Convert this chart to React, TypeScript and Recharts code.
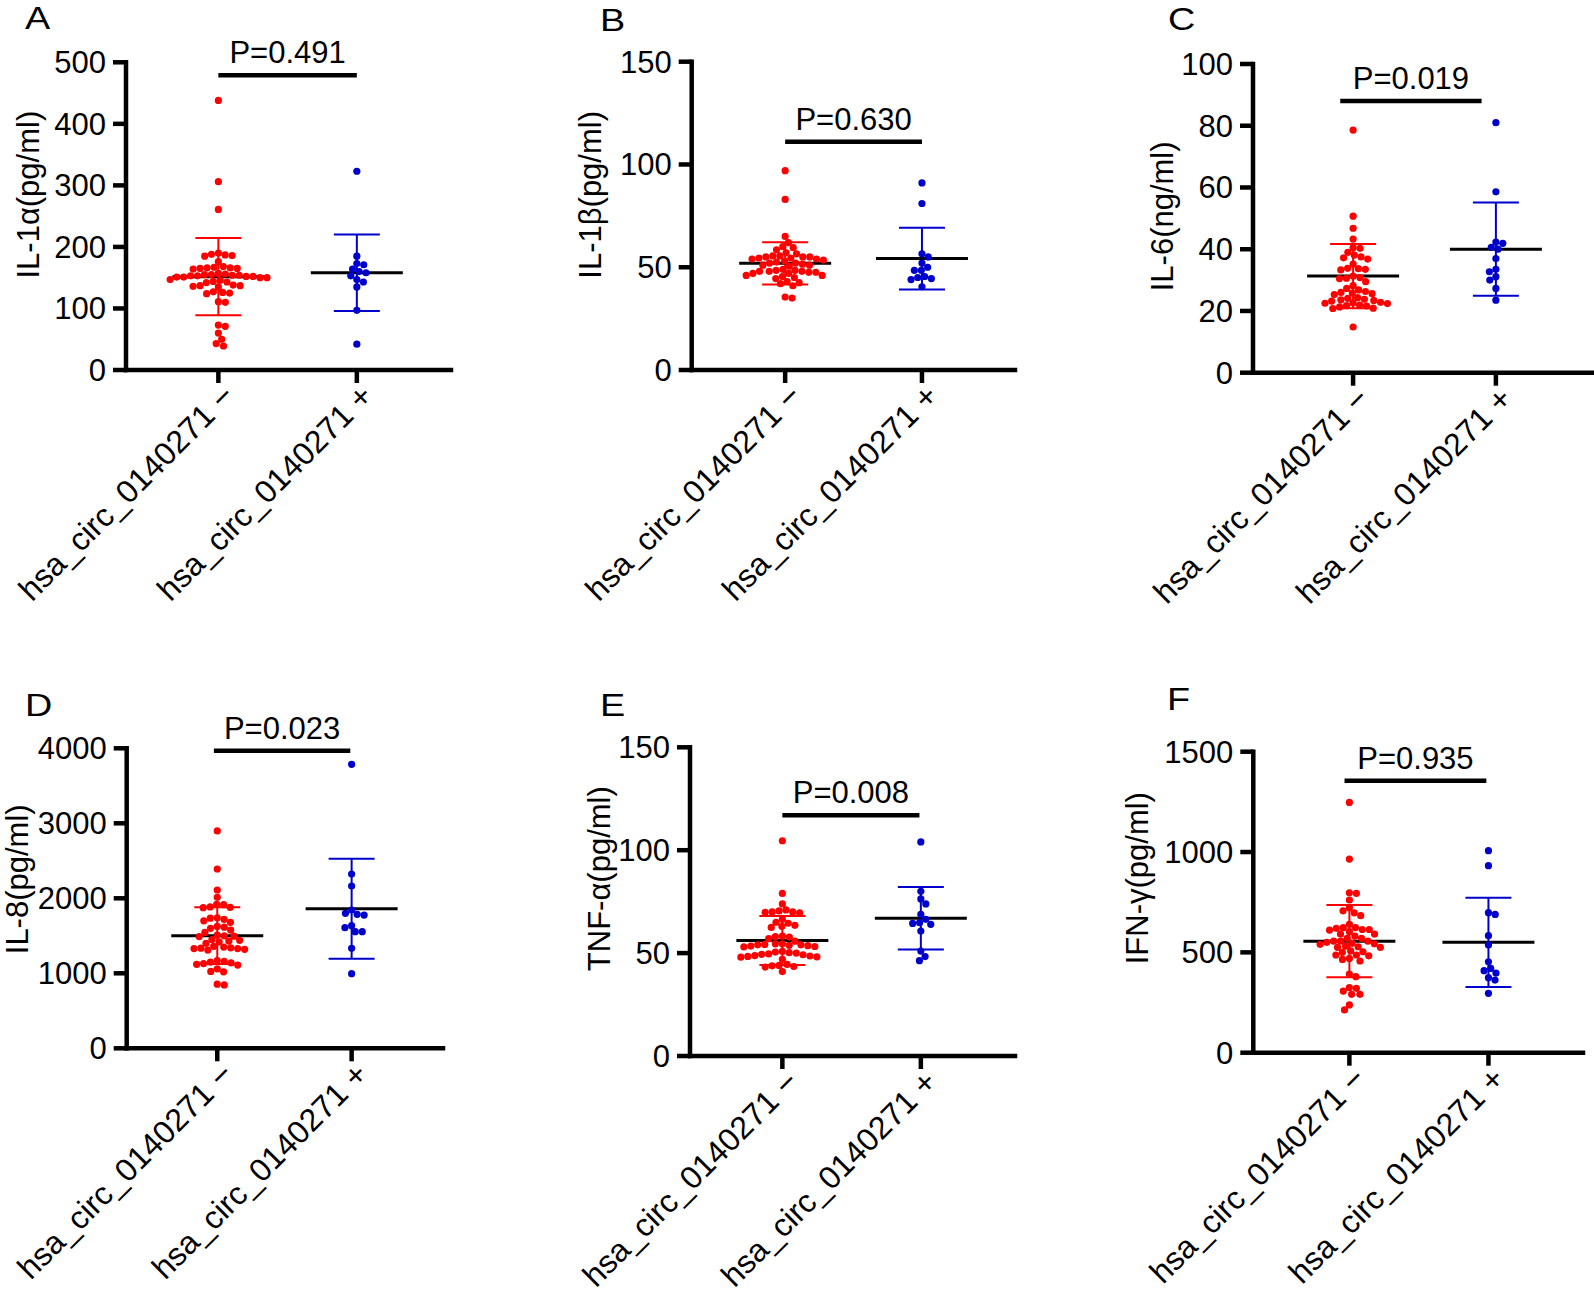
import * as React from "react"
import {
    ScatterChart,
    Scatter,
    XAxis,
    YAxis,
    ErrorBar,
    ReferenceLine,
    Customized
} from "recharts"

const FONT = "'Liberation Sans', Arial, Helvetica, sans-serif"
const RED = "#ff0000"
const BLUE = "#0000cc"
const FS = 31

// ---- data ----
const groupLabels = ["hsa_circ_0140271 \u2212", "hsa_circ_0140271 +"]

const il1aTicks = [0, 100, 200, 300, 400, 500]
const il1aNeg = [438, 306, 261, 190, 188, 187, 186, 185, 176, 168, 167, 166, 166, 165, 165, 164, 157, 156, 155, 155, 154, 154, 153, 153, 152, 152, 151, 151, 150, 150, 147, 146, 144, 143, 142, 138, 137, 137, 136, 135, 127, 126, 125, 124, 111, 110, 73, 71, 60, 50, 43, 39]
const il1aPos = [323, 185, 173, 171, 164, 160, 158, 153, 147, 143, 135, 97, 42]
const il1aMean = [151.6, 158]
const il1aSd = [62.8, 62]

const il1bTicks = [0, 50, 100, 150]
const il1bNeg = [97, 83, 65, 62, 60, 59.5, 58.5, 57, 56.5, 55.5, 55.5, 55, 55, 55, 54.5, 54.5, 54, 54, 53.5, 53, 52.5, 52, 52, 51.5, 51, 51, 50.5, 49, 48.5, 48.5, 48, 48, 48, 47.5, 47.5, 47, 47, 46, 46, 45.5, 45, 44.5, 43, 42.5, 42, 41, 35.5, 35]
const il1bPos = [91, 81, 56.5, 55, 52, 50, 48.5, 48.5, 45.5, 45, 44.5, 44, 40.5]
const il1bMean = [51.9, 54.2]
const il1bSd = [10.3, 15]

const il6Ticks = [0, 20, 40, 60, 80, 100]
const il6Neg = [78.6, 50.7, 46.8, 43.3, 40.5, 40.3, 39, 38.1, 37.5, 37.2, 36.8, 35.2, 33.8, 33.7, 33.5, 33.3, 31.3, 30.8, 30.6, 30.5, 29.5, 28.2, 27.3, 26.8, 26.3, 26, 25.8, 25.6, 25.3, 24.3, 24.1, 23.8, 23.6, 23.4, 23.2, 22.8, 22.6, 22.5, 22.4, 21.9, 21.7, 21.6, 21.3, 20.9, 20.8, 14.8]
const il6Pos = [81, 58.6, 42.3, 41.9, 40.6, 40, 37, 33.5, 32.7, 31.1, 30, 27.3, 23.5]
const il6Mean = [31.3, 40.0]
const il6Sd = [10.4, 15.1]

const il8Ticks = [0, 1000, 2000, 3000, 4000]
const il8Neg = [2898, 2391, 2111, 2013, 1920, 1915, 1885, 1880, 1875, 1740, 1735, 1720, 1700, 1680, 1625, 1615, 1600, 1577, 1545, 1510, 1500, 1495, 1490, 1450, 1440, 1430, 1420, 1400, 1360, 1350, 1340, 1335, 1330, 1330, 1320, 1310, 1170, 1160, 1150, 1140, 1130, 1120, 1110, 1060, 1025, 1020, 855, 845]
const il8Pos = [3787, 2324, 2164, 1844, 1800, 1787, 1777, 1635, 1608, 1555, 1555, 1333, 995]
const il8Mean = [1502, 1862]
const il8Sd = [378, 667]

const tnfTicks = [0, 50, 100, 150]
const tnfNeg = [104.6, 79, 73.9, 71, 70.5, 70, 70, 69.8, 69.5, 66.4, 65, 64.5, 63.5, 63, 62.5, 58.2, 58, 57.8, 57, 55.8, 54.5, 54.5, 54.2, 54, 54, 53.8, 53.6, 53.4, 53.2, 53, 50.8, 50.5, 50.2, 50, 49.6, 49.4, 49.2, 48.8, 48.6, 48.4, 48.2, 48, 47, 44.5, 44, 43.8, 43.5, 43.2, 41]
const tnfPos = [104, 80, 76.3, 73.9, 68.8, 66.4, 64.8, 64.4, 64, 60.7, 51, 48.3, 46.3]
const tnfMean = [56.1, 66.9]
const tnfSd = [11.9, 15.2]

const ifnTicks = [0, 500, 1000, 1500]
const ifnNeg = [1247, 965, 797, 794, 761, 722, 707, 697, 683, 640, 623, 623, 620, 614, 614, 611, 603, 591, 591, 581, 570, 570, 556, 556, 556, 550, 545, 543, 540, 531, 528, 525, 525, 507, 503, 500, 487, 487, 483, 470, 465, 457, 392, 379, 324, 321, 307, 291, 291, 238, 213]
const ifnPos = [1007, 932, 698, 689, 583, 537, 453, 420, 409, 397, 374, 362, 296]
const ifnMean = [556, 550]
const ifnSd = [180, 222]

const pLabels = ["P=0.491", "P=0.630", "P=0.019", "P=0.023", "P=0.008", "P=0.935"]
const pBarLevels = [479, 111, 88, 3968, 117, 1355]

// ---- panel layout ----
const X_MAX = 1.68
const DOT_R = 3.6
const MEAN_HALF_PX = 46
const CAP_HALF_PX = 23

const panels = [
    { letter: "A", title: "IL-1\u03b1(pg/ml)", ticks: il1aTicks, neg: il1aNeg, pos: il1aPos, mean: il1aMean, sd: il1aSd,
      left: 0, top: 0, width: 540, plot: { x: 126, y: 62.3, w: 325, h: 307.7 }, xMin: -0.667, bar: [0, 1],
      titleDx: -87, titleDy: -21.5, letterPos: [25, 29] },
    { letter: "B", title: "IL-1\u03b2(pg/ml)", ticks: il1bTicks, neg: il1bNeg, pos: il1bPos, mean: il1bMean, sd: il1bSd,
      left: 540, top: 0, width: 540, plot: { x: 151.7, y: 61.7, w: 323.3, h: 308.3 }, xMin: -0.683, bar: [0, 1],
      titleDx: -91, titleDy: -21, letterPos: [60, 31] },
    { letter: "C", title: "IL-6(ng/ml)", ticks: il6Ticks, neg: il6Neg, pos: il6Pos, mean: il6Mean, sd: il6Sd,
      left: 1080, top: 0, width: 514, plot: { x: 173, y: 64, w: 340, h: 308.7 }, xMin: -0.701, bar: [-0.09, 0.9],
      titleDx: -80, titleDy: -2, letterPos: [88, 30] },
    { letter: "D", title: "IL-8(pg/ml)", ticks: il8Ticks, neg: il8Neg, pos: il8Pos, mean: il8Mean, sd: il8Sd,
      left: 0, top: 650, width: 540, plot: { x: 126.7, y: 98.3, w: 316.3, h: 300 }, xMin: -0.674, bar: [-0.025, 0.99],
      titleDx: -99, titleDy: -19, letterPos: [25, 66] },
    { letter: "E", title: "TNF-\u03b1(pg/ml)", ticks: tnfTicks, neg: tnfNeg, pos: tnfPos, mean: tnfMean, sd: tnfSd,
      left: 540, top: 650, width: 540, plot: { x: 150, y: 97.3, w: 325, h: 308.7 }, xMin: -0.667, bar: [0, 0.99],
      titleDx: -80, titleDy: -23, letterPos: [60, 66] },
    { letter: "F", title: "IFN-\u03b3(pg/ml)", ticks: ifnTicks, neg: ifnNeg, pos: ifnPos, mean: ifnMean, sd: ifnSd,
      left: 1080, top: 650, width: 514, plot: { x: 173.3, y: 101.7, w: 329.7, h: 301 }, xMin: -0.691, bar: [-0.035, 0.985],
      titleDx: -105, titleDy: -24, letterPos: [87, 60] },
]

// simple beeswarm: spread points sideways so dots do not overlap (in pixels)
function swarm(values: number[], center: number, pxX: number, pxY: number, d = 7) {
    const order = values.map((_, i) => i).sort((a, b) => values[b] - values[a])
    const placed: { x: number; py: number; v: number }[] = []
    let flip = 1
    for (const i of order) {
        const py = values[i] * pxY
        const near = placed.filter(p => Math.abs(p.py - py) < d)
        const cands = [0]
        near.forEach(p => {
            const dx = Math.sqrt(d * d - (p.py - py) ** 2)
            cands.push(p.x + dx, p.x - dx)
        })
        cands.sort((a, b) => Math.abs(a) - Math.abs(b) || (a - b) * flip)
        const ok = cands.find(c => near.every(p => (p.x - c) ** 2 + (p.py - py) ** 2 >= d * d - 0.01))
        flip = -flip
        placed.push({ x: ok ?? 0, py, v: values[i] })
    }
    return placed.map(p => ({ x: center + p.x / pxX, y: p.v }))
}

function GroupTick(props: any) {
    const { x, y, payload } = props
    const ax = x + 18
    const ay = y + 15
    return (
        <text x={ax} y={ay} textAnchor="end" fontSize={32} fontFamily={FONT} fill="#000"
            transform={`rotate(-45 ${ax} ${ay})`}>
            {groupLabels[Math.round(payload.value)]}
        </text>
    )
}

function Panel({ cfg, p }: { cfg: typeof panels[number]; p: number }) {
    const H = 650
    const yMax = cfg.ticks[cfg.ticks.length - 1]
    const pxX = cfg.plot.w / (X_MAX - cfg.xMin)
    const pxY = cfg.plot.h / yMax
    const negPts = swarm(cfg.neg, 0, pxX, pxY)
    const posPts = swarm(cfg.pos, 1, pxX, pxY)
    const half = MEAN_HALF_PX / pxX
    const negStat = [{ x: 0, y: cfg.mean[0], sd: cfg.sd[0], half }]
    const posStat = [{ x: 1, y: cfg.mean[1], sd: cfg.sd[1], half }]
    const titleX = cfg.plot.x + cfg.titleDx
    const titleY = cfg.plot.y + cfg.plot.h / 2 + cfg.titleDy
    const axisStyle = { stroke: "#000", strokeWidth: 4.5, strokeLinecap: "square" as const }

    return (
        <div style={{ position: "absolute", left: cfg.left, top: cfg.top }}>
            <ScatterChart
                width={cfg.width}
                height={H}
                margin={{ top: cfg.plot.y, right: cfg.width - cfg.plot.x - cfg.plot.w, bottom: 0, left: 0 }}
            >
                <XAxis
                    type="number"
                    dataKey="x"
                    domain={[cfg.xMin, X_MAX]}
                    allowDataOverflow
                    ticks={[0, 1]}
                    interval={0}
                    height={H - cfg.plot.y - cfg.plot.h}
                    axisLine={axisStyle}
                    tickLine={{ stroke: "#000", strokeWidth: 4.5 }}
                    tickSize={13}
                    tickMargin={0}
                    tick={<GroupTick />}
                />
                <YAxis
                    type="number"
                    dataKey="y"
                    domain={[0, yMax]}
                    allowDataOverflow
                    ticks={cfg.ticks}
                    interval={0}
                    width={cfg.plot.x}
                    axisLine={axisStyle}
                    tickLine={{ stroke: "#000", strokeWidth: 4.5 }}
                    tickSize={13}
                    tickMargin={7}
                    tick={{ fontSize: FS, fill: "#000", fontFamily: FONT }}
                />
                <Scatter data={negPts} isAnimationActive={false}
                    shape={(s: any) => <circle cx={s.cx} cy={s.cy} r={DOT_R} fill={RED} />} />
                <Scatter data={posPts} isAnimationActive={false}
                    shape={(s: any) => <circle cx={s.cx} cy={s.cy} r={DOT_R} fill={BLUE} />} />
                <Scatter data={negStat} isAnimationActive={false} shape={() => <g />}>
                    <ErrorBar dataKey="sd" direction="y" width={CAP_HALF_PX} stroke={RED} strokeWidth={2} isAnimationActive={false} />
                    <ErrorBar dataKey="half" direction="x" width={0} stroke="#000" strokeWidth={3} isAnimationActive={false} />
                </Scatter>
                <Scatter data={posStat} isAnimationActive={false} shape={() => <g />}>
                    <ErrorBar dataKey="sd" direction="y" width={CAP_HALF_PX} stroke={BLUE} strokeWidth={2} isAnimationActive={false} />
                    <ErrorBar dataKey="half" direction="x" width={0} stroke="#000" strokeWidth={3} isAnimationActive={false} />
                </Scatter>
                <ReferenceLine
                    segment={[{ x: cfg.bar[0], y: pBarLevels[p] }, { x: cfg.bar[1], y: pBarLevels[p] }]}
                    stroke="#000"
                    strokeWidth={4.5}
                    label={{ value: pLabels[p], position: "top", offset: 12, fontSize: FS, fill: "#000", fontFamily: FONT }}
                />
                <Customized
                    component={() => (
                        <g>
                            <text transform={`translate(${cfg.letterPos[0]} ${cfg.letterPos[1]}) scale(1.22 1)`}
                                fontSize={31} fontFamily={FONT} fill="#000">
                                {cfg.letter}
                            </text>
                            <text x={titleX} y={titleY} textAnchor="middle" fontSize={FS} fontFamily={FONT} fill="#000"
                                transform={`rotate(-90 ${titleX} ${titleY})`}>
                                {cfg.title}
                            </text>
                        </g>
                    )}
                />
            </ScatterChart>
        </div>
    )
}

export default function App() {
    return (
        <div style={{ position: "absolute", left: 0, top: 0, width: 1594, height: 1300, background: "#fff" }}>
            {panels.map((cfg, i) => (
                <Panel key={cfg.letter} cfg={cfg} p={i} />
            ))}
        </div>
    )
}
